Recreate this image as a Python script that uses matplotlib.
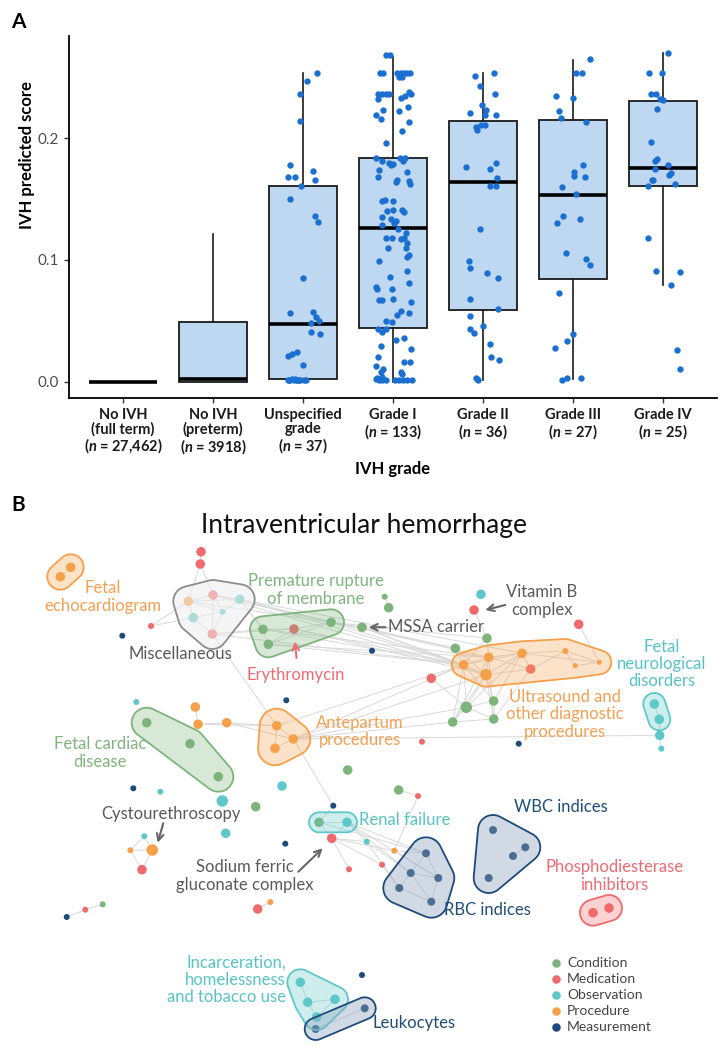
import numpy as np
import matplotlib
matplotlib.use("Agg")
import matplotlib.pyplot as plt
from matplotlib.patches import Polygon
from matplotlib.collections import LineCollection

plt.rcParams['font.family'] = ['Lato', 'DejaVu Sans']
plt.rcParams['mathtext.fontset'] = 'custom'
plt.rcParams['mathtext.rm'] = 'Lato:bold'
plt.rcParams['mathtext.it'] = 'Lato:italic:bold'

# --- Panel A data: box statistics ---
grade_labels = [
    "No IVH\n(full term)\n($\\mathit{n}$ = 27,462)",
    "No IVH\n(preterm)\n($\\mathit{n}$ = 3918)",
    "Unspecified\ngrade\n($\\mathit{n}$ = 37)",
    "Grade I\n($\\mathit{n}$ = 133)",
    "Grade II\n($\\mathit{n}$ = 36)",
    "Grade III\n($\\mathit{n}$ = 27)",
    "Grade IV\n($\\mathit{n}$ = 25)",
]
box_q1 = [0.0, 0.0, 0.002, 0.0441, 0.0589, 0.0847, 0.1608]
box_med = [0.0, 0.0025, 0.0477, 0.1259, 0.164, 0.1537, 0.1752]
box_q3 = [0.0, 0.049, 0.161, 0.184, 0.2139, 0.2147, 0.2308]
whisk_lo = [0.0, 0.0, 0.0, 0.0, 0.0016, 0.002, 0.079]
whisk_hi = [0.0, 0.121, 0.2537, 0.267, 0.2536, 0.2646, 0.270]
y_ticks = [0.0, 0.1, 0.2]
y_tick_labels = ["0.0", "0.1", "0.2"]

# jittered points: horizontal offset (in category units) and score
unspec_off = [0.15, 0.04, -0.03, -0.03, -0.14, -0.17, -0.09, 0.11, 0.13, -0.02, -0.14, 0.13, 0.17,
              0.00, -0.14, 0.11, 0.14, 0.18, 0.09, 0.09, 0.19, -0.17, -0.12, -0.07, 0.00,
              -0.17, -0.14, -0.10, -0.07, -0.03, 0.03, -0.09, -0.16, -0.05, 0.01, -0.12, -0.07]
unspec_val = [0.254, 0.247, 0.236, 0.214, 0.178, 0.168, 0.168, 0.173, 0.166, 0.161, 0.150, 0.136, 0.131,
              0.085, 0.056, 0.057, 0.053, 0.050, 0.048, 0.041, 0.039, 0.021, 0.023, 0.024, 0.014,
              0.001, 0.001, 0.001, 0.001, 0.001, 0.001, 0.002, 0.001, 0.001, 0.001, 0.002, 0.001]

grade1_off = [-0.074, -0.037, -0.145, -0.108, 0.048, 0.085, 0.123, 0.160, 0.186, 0.067, 0.104,
              -0.164, -0.119, -0.074, -0.045, -0.167, 0.085, 0.130, 0.178, 0.197,
              -0.111, -0.186, -0.130, 0.067, 0.167, 0.175, 0.097, -0.078,
              -0.186, -0.119, -0.045, -0.026, 0.0, 0.074, 0.108, 0.134,
              -0.156, 0.160, -0.164, 0.048, 0.030, 0.178, 0.186,
              -0.126, -0.093, 0.004, -0.067, 0.0, 0.097, 0.119, -0.119, -0.026, 0.030, 0.059, -0.126, 0.011,
              -0.074, -0.007, 0.085, 0.123, 0.149, 0.160, -0.052, 0.141, 0.178, 0.152, -0.152,
              -0.037, 0.152, -0.186, -0.175, -0.015, 0.178, 0.0, -0.156, -0.126, 0.197,
              0.085, 0.048, 0.178, -0.074, -0.015, -0.164, -0.119, -0.082,
              0.030, 0.119, -0.130, 0.201, -0.167, 0.126, 0.193, -0.193, -0.111, -0.137, 0.093, 0.104,
              -0.193, -0.156, -0.119, -0.074, 0.019, 0.067, 0.115, 0.160, 0.208, -0.175, -0.126]
grade1_val = [0.268, 0.268, 0.254, 0.254, 0.254, 0.254, 0.254, 0.254, 0.254, 0.250, 0.250,
              0.236, 0.236, 0.236, 0.236, 0.232, 0.233, 0.235, 0.238, 0.236,
              0.223, 0.219, 0.216, 0.222, 0.226, 0.213, 0.206, 0.196,
              0.184, 0.181, 0.180, 0.178, 0.179, 0.184, 0.181, 0.184,
              0.174, 0.172, 0.168, 0.166, 0.164, 0.165, 0.162,
              0.148, 0.149, 0.148, 0.140, 0.141, 0.141, 0.139, 0.135, 0.134, 0.132, 0.125, 0.129, 0.130,
              0.118, 0.118, 0.117, 0.118, 0.122, 0.114, 0.110, 0.110, 0.104, 0.102, 0.099,
              0.086, 0.091, 0.078, 0.076, 0.076, 0.081, 0.068, 0.067, 0.067, 0.065,
              0.058, 0.055, 0.056, 0.050, 0.049, 0.043, 0.041, 0.043,
              0.034, 0.036, 0.029, 0.027, 0.020, 0.016, 0.016, 0.013, 0.010, 0.008, 0.008, 0.006,
              0.002, 0.001, 0.001, 0.001, 0.001, 0.001, 0.001, 0.001, 0.001, 0.003, 0.004]

grade2_off = [-0.093, 0.126, -0.030, 0.137, -0.007, -0.141, 0.037, 0.022, 0.141, -0.022, 0.022, -0.082,
              -0.063, -0.193, 0.074, 0.141, 0.160, 0.074, 0.141, -0.033, -0.152, -0.145, 0.045, 0.167,
              -0.145, 0.167, -0.141, 0.0, -0.145, -0.100, 0.074, 0.089, 0.178, -0.082, -0.052, -0.063]
grade2_val = [0.251, 0.254, 0.243, 0.236, 0.227, 0.221, 0.223, 0.219, 0.219, 0.211, 0.211, 0.209,
              0.207, 0.176, 0.175, 0.180, 0.167, 0.161, 0.161, 0.125, 0.099, 0.093, 0.089, 0.085,
              0.068, 0.060, 0.054, 0.046, 0.043, 0.040, 0.031, 0.020, 0.018, 0.003, 0.001, 0.002]

grade3_off = [0.190, 0.037, 0.097, -0.186, -0.004, -0.160, -0.137, 0.145, 0.111, 0.007, 0.011, 0.130,
              -0.126, 0.033, -0.111, -0.178, 0.078, -0.082, 0.149, 0.193, -0.160, -0.004, -0.067,
              -0.197, -0.126, -0.067, 0.089]
grade3_val = [0.265, 0.254, 0.254, 0.235, 0.233, 0.222, 0.217, 0.213, 0.178, 0.172, 0.169, 0.168,
              0.160, 0.154, 0.136, 0.130, 0.134, 0.106, 0.101, 0.096, 0.073, 0.039, 0.033,
              0.028, 0.001, 0.003, 0.003]

grade4_off = [0.059, -0.152, -0.015, -0.134, -0.078, -0.033, 0.004, -0.067, -0.134, -0.063, -0.085,
              -0.089, 0.059, 0.067, 0.085, -0.108, -0.123, -0.167, 0.137, -0.171, -0.082, 0.193,
              0.093, 0.160, 0.190]
grade4_val = [0.270, 0.254, 0.254, 0.236, 0.236, 0.232, 0.231, 0.224, 0.197, 0.183, 0.181,
              0.175, 0.178, 0.170, 0.171, 0.166, 0.166, 0.161, 0.162, 0.118, 0.091, 0.090,
              0.079, 0.026, 0.010]

# --- Panel B data: network layout (layout units), node type and size class ---
node_x = [70.7, 60.3, 201, 200.3, 188.3, 213, 239.7, 222.7, 193.3, 212.3,
          151, 122.3, 263, 294, 331, 268.3, 286.3, 136.3, 195.3, 198,
          226.7, 146.7, 190, 218.3, 276.7, 293.3, 275, 347.7, 282, 133.3,
          160.3, 384.7, 388.7, 362, 372, 481, 474, 578.7, 487, 455.3,
          463.7, 488.7, 522, 565.3, 575.3, 599.3, 486, 530.7, 431.3, 493.7,
          466.3, 452.7, 493.7, 422, 518.7, 654.3, 659.3, 659.7, 661.3, 398.7,
          418, 222.3, 225.7, 255.7, 333.3, 285.3, 152.3, 144.3, 130.3, 142,
          66.7, 85.3, 102.7, 257.7, 270.3, 319, 347, 331.7, 349, 366.7,
          394.3, 382, 426, 410.7, 438.3, 399.3, 431.3, 493, 525.3, 513,
          488.7, 593, 609, 300.3, 307.7, 335, 316.7, 315.7, 364.7, 362]
node_y = [567.3, 576.7, 551.7, 564, 601.3, 595, 599.3, 611.7, 617.7, 634,
          626, 635.7, 629.3, 629, 622.3, 644.3, 700.3, 702, 707, 724.3,
          722.7, 722.7, 743.7, 776.7, 725.7, 739, 748.3, 770, 786, 788.3,
          791.7, 596.7, 607.7, 627.3, 650.7, 594.3, 610, 624.3, 638.3, 648.3,
          664.7, 657.3, 653.3, 651, 665.7, 662.3, 674.7, 669, 678.3, 701,
          707.3, 722, 719, 741.7, 743.7, 704, 719.3, 735.3, 748.7, 790,
          796, 801, 833.3, 806.7, 805.7, 843.7, 850, 836.3, 850.3, 869.7,
          917, 909.7, 904.3, 909, 902, 822.3, 822.3, 838.3, 869.3, 841.7,
          850.7, 864.7, 853.3, 873, 878, 888, 901.7, 830, 847.3, 856,
          878, 912.7, 908, 982.3, 1002.3, 999.3, 1017, 1029, 1008.3, 975]
# C condition, M medication, O observation, P procedure, X measurement
node_type = list("PPMMPMOOOM" "MXCMCCXOPP" "PCCCPPPCOX" "OCCCXOMMCC" "PPPPPPPMMC"
                 "CCCMXOOOOC" "MOOCXXPOPM" "XMCMPCOMMO" "PMXXXXXXXX" "XMMOOOOXXX")
node_size = list("mmmmmmmsmm" "ssmmmmssmm" "mmmmmmmmms" "ssmmsmmmmm" "mmmsttlmmm"
                 "lmmssmmmsm" "slmmsslssm" "sssmsmmmss" "ssnnnnnnnn" "nmmmmmmnns")

edges = [(0, 1), (2, 3), (3, 5), (3, 4),
         (4, 5), (4, 6), (4, 7), (4, 8), (5, 6), (5, 7), (7, 8), (7, 9), (8, 9), (6, 7), (5, 9),
         (10, 4), (10, 8), (6, 12), (6, 14), (5, 14), (9, 12), (9, 13), (4, 14), (6, 40), (5, 41), (9, 40),
         (12, 13), (13, 14), (12, 15), (13, 15), (14, 15),
         (14, 33), (14, 38), (14, 40), (12, 40), (15, 41), (13, 46), (14, 39), (33, 40), (33, 39), (33, 46),
         (6, 42), (5, 46), (12, 41), (15, 40), (13, 40), (31, 32), (9, 24), (25, 64), (64, 75),
         (24, 25), (24, 26), (25, 26), (18, 19), (19, 20), (20, 24), (20, 25), (19, 24),
         (25, 40), (25, 46), (24, 40), (25, 51), (25, 50), (25, 57), (57, 58), (57, 56), (55, 56),
         (40, 41), (40, 46), (41, 42), (41, 46), (42, 43), (42, 47), (43, 44), (43, 45), (44, 45),
         (46, 47), (47, 43), (40, 42), (46, 42), (41, 47), (42, 45),
         (38, 40), (38, 41), (39, 40), (39, 46), (49, 46), (50, 46), (51, 40), (52, 46), (49, 50),
         (50, 51), (51, 52), (49, 52), (50, 52), (49, 40), (52, 41), (50, 40), (51, 46),
         (49, 42), (52, 47), (51, 41), (50, 42),
         (37, 45), (36, 38), (48, 40), (48, 50),
         (75, 76), (75, 77), (76, 77), (77, 79), (77, 80), (77, 81), (76, 82), (76, 83), (76, 84),
         (75, 82), (79, 83), (80, 82), (81, 85), (78, 77), (79, 85), (80, 84), (82, 83), (83, 84),
         (82, 84), (83, 85), (85, 86), (84, 86), (83, 86), (59, 60), (60, 80), (76, 79),
         (89, 88), (66, 67), (66, 68), (67, 68), (68, 69), (66, 69), (70, 71), (71, 72), (73, 74),
         (93, 94), (94, 95), (95, 96), (94, 96), (97, 98)]

# clusters: member nodes, hull colour key, padding
cluster_members = [[0, 1], [4, 5, 6, 7, 8, 9], [12, 13, 14, 15], [21, 22, 23], [24, 25, 26],
                   [40, 41, 42, 43, 44, 45, 46, 47], [55, 56], [75, 76], [82, 83, 84, 85, 86],
                   [87, 88, 89, 90], [91, 92], [93, 94, 95, 96], [97, 98]]
cluster_kind = ["P", "G", "C", "C", "P", "P", "O", "O", "X", "X", "M", "O", "X"]
cluster_pad = [13, 15, 13, 15, 17, 12, 11, 10, 16, 15, 13, 13, 11]

label_text = ["Fetal\nechocardiogram", "Miscellaneous", "Premature rupture\nof membrane", "Erythromycin",
              "MSSA carrier", "Vitamin B\ncomplex", "Fetal\nneurological\ndisorders",
              "Ultrasound and\nother diagnostic\nprocedures", "Antepartum\nprocedures",
              "Fetal cardiac\ndisease", "Cystourethroscopy", "Renal failure",
              "Sodium ferric\ngluconate complex", "WBC indices", "RBC indices",
              "Phosphodiesterase\ninhibitors", "Incarceration,\nhomelessness\nand tobacco use", "Leukocytes"]
label_x = [102.7, 180, 316, 296, 436, 542, 662, 564.7, 360, 100, 170.7, 404.7, 245, 561, 487, 614.3, 286, 413.7]
label_y = [597, 654.3, 590, 675, 626.7, 601, 664, 714.5, 731.5, 753, 814, 820, 876, 807.3, 910, 876, 980, 1023.3]
label_kind = ["P", "G", "C", "M", "G", "G", "O", "P", "P", "C", "G", "O", "G", "X", "X", "M", "O", "X"]

# arrows (tail -> head) pointing from a label to its node
arrow_tail = [(385.5, 627.3), (505.3, 605), (296.5, 658), (163.3, 823.3), (298.3, 871.7)]
arrow_head = [(368.7, 627.3), (485.3, 610), (295, 641.5), (157.7, 842.7), (322.7, 848.3)]
arrow_kind = ["G", "G", "M", "G", "G"]

legend_names = ["Condition", "Medication", "Observation", "Procedure", "Measurement"]
legend_kind = ["C", "M", "O", "P", "X"]

NODE_COLORS = {"C": "#7cb47c", "M": "#ef6a6c", "O": "#5ec7c9", "P": "#f6a049", "X": "#1d4a7a", "G": "#8c8c8c"}
TEXT_COLORS = {"C": "#7fb47f", "M": "#ee6b73", "O": "#58c3c4", "P": "#f4a052", "X": "#1f4e79", "G": "#5a5a5a"}
SIZE_PX = {"s": 6.0, "t": 5.0, "m": 9.5, "l": 11.5, "n": 8.0}


def rounded_hull(xs, ys, pad):
    """Convex hull of circles of radius pad drawn around each node."""
    ang = np.linspace(0, 2 * np.pi, 48, endpoint=False)
    pts = np.concatenate([np.column_stack([x + pad * np.cos(ang), y + pad * np.sin(ang)])
                          for x, y in zip(xs, ys)])
    pts = sorted(map(tuple, pts))

    def cross(o, a, b):
        return (a[0] - o[0]) * (b[1] - o[1]) - (a[1] - o[1]) * (b[0] - o[0])

    lower, upper = [], []
    for p in pts:
        while len(lower) >= 2 and cross(lower[-2], lower[-1], p) <= 0:
            lower.pop()
        lower.append(p)
    for p in reversed(pts):
        while len(upper) >= 2 and cross(upper[-2], upper[-1], p) <= 0:
            upper.pop()
        upper.append(p)
    return np.array(lower[:-1] + upper[:-1])


fig = plt.figure(figsize=(7.23, 10.5), dpi=100)

# --- 1. Panel A: boxplot with jittered points ---
ax = fig.add_axes([69 / 723, 1 - 398 / 1050, 648 / 723, 362 / 1050])
positions = np.arange(1, 8)
stats = [dict(med=m, q1=a, q3=b, whislo=lo, whishi=hi, fliers=[])
         for m, a, b, lo, hi in zip(box_med, box_q1, box_q3, whisk_lo, whisk_hi)]
ax.bxp(stats, positions=positions, widths=0.75, patch_artist=True, showcaps=False,
       boxprops=dict(facecolor="#bfd8f1", edgecolor="#1a1a1a", linewidth=1.3),
       medianprops=dict(color="black", linewidth=2.6, solid_capstyle="butt"),
       whiskerprops=dict(color="#1a1a1a", linewidth=1.2))

point_groups = [(3, unspec_off, unspec_val), (4, grade1_off, grade1_val), (5, grade2_off, grade2_val),
                (6, grade3_off, grade3_val), (7, grade4_off, grade4_val)]
for pos, offs, vals in point_groups:
    ax.scatter(pos + np.array(offs), vals, s=21, color="#1a6fd0", zorder=5, linewidths=0)

ax.set_xlim(0.4, 7.6)
ax.set_ylim(-0.0135, 0.284)
ax.set_xticks(positions)
ax.set_xticklabels(grade_labels, fontsize=10.5, fontweight="bold", color="#1a1a1a", linespacing=1.0)
ax.set_yticks(y_ticks)
ax.set_yticklabels(y_tick_labels, fontsize=11, color="#4d4d4d")
ax.tick_params(axis="both", length=3.5, width=1, color="#333333")
for side in ["top", "right"]:
    ax.spines[side].set_visible(False)
for side in ["left", "bottom"]:
    ax.spines[side].set_linewidth(1.3)
ax.set_xlabel("IVH grade", fontsize=12, fontweight="bold", labelpad=4)
ax.set_ylabel("IVH predicted score", fontsize=12, fontweight="bold")
ax.yaxis.set_label_coords(-0.052, 0.672)
fig.text(18 / 723, 1 - 22 / 1050, "A", fontsize=15, fontweight="bold", ha="center", va="center")

# --- 2. Panel B: network of related concepts ---
bx = fig.add_axes([0, 0, 1, 570 / 1050])
bx.set_xlim(0, 723)
bx.set_ylim(1050, 480)
bx.axis("off")

segs = [[(node_x[a], node_y[a]), (node_x[b], node_y[b])] for a, b in edges]
bx.add_collection(LineCollection(segs, colors="#d9d9d9", linewidths=0.7, zorder=1))

sizes = [(SIZE_PX[k] * 0.72) ** 2 for k in node_size]
colors = [NODE_COLORS[k] for k in node_type]
bx.scatter(node_x, node_y, s=sizes, c=colors, linewidths=0, zorder=2)

for members, kind, pad in zip(cluster_members, cluster_kind, cluster_pad):
    hull = rounded_hull([node_x[i] for i in members], [node_y[i] for i in members], pad)
    if kind == "G":
        face, alpha_face = "#eeeeee", 0.55
    elif kind == "X":
        face, alpha_face = "#8ea4bd", 0.4
    else:
        face, alpha_face = NODE_COLORS[kind], 0.3
    bx.add_patch(Polygon(hull, closed=True, facecolor=matplotlib.colors.to_rgba(face, alpha_face),
                         edgecolor=NODE_COLORS[kind], linewidth=1.3, zorder=3))

for text, x, y, kind in zip(label_text, label_x, label_y, label_kind):
    ha = "right" if text.startswith("Incarceration") else "center"
    bx.text(x, y, text, fontsize=12, color=TEXT_COLORS[kind], ha=ha, va="center",
            multialignment=ha, linespacing=1.1, zorder=4)

for tail, head, kind in zip(arrow_tail, arrow_head, arrow_kind):
    bx.annotate("", xy=head, xytext=tail, zorder=4,
                arrowprops=dict(arrowstyle="->", color="#666666" if kind == "G" else TEXT_COLORS[kind],
                                lw=1.5, mutation_scale=12, shrinkA=0, shrinkB=0))

for i, (name, kind) in enumerate(zip(legend_names, legend_kind)):
    ly = 963 + 16 * i
    bx.scatter([555.7], [ly], s=(8.5 * 0.72) ** 2, color=NODE_COLORS[kind], linewidths=0, zorder=4)
    bx.text(567, ly, name, fontsize=10, color="#444444", va="center", ha="left")

bx.text(363.8, 525.5, "Intraventricular hemorrhage", fontsize=19, ha="center", va="center", color="#111111")
fig.text(18 / 723, 1 - 505 / 1050, "B", fontsize=15, fontweight="bold", ha="center", va="center")

fig.savefig("out.png", dpi=100)
